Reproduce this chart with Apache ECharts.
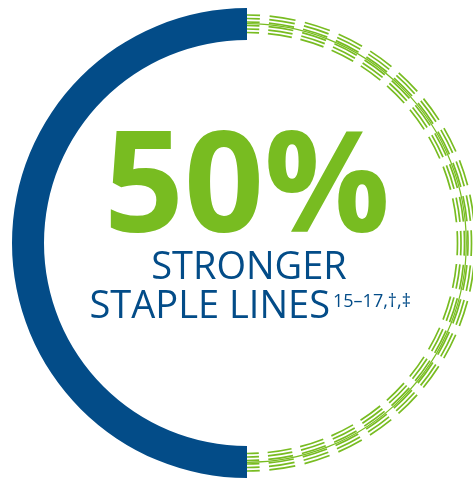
<!DOCTYPE html>
<html>
<head>
<meta charset="utf-8">
<script src="https://cdn.jsdelivr.net/npm/echarts@6/dist/echarts.min.js"></script>
<style>
  html, body { margin: 0; padding: 0; background: #ffffff; }
  #chart { width: 473px; height: 478px; }
</style>
</head>
<body>
<div id="chart"></div>
<script>
// ---- data ----
const categories = ['Stronger staple lines'];
const strongerValues = [50];          // % shown in solid blue
const remainderValues = [[0, 50, 100]]; // [category index, from %, to %] drawn as staple rows
const headline = '50%';
const titleLines = ['STRONGER', 'STAPLE LINES'];
const footnote = '15\u201317,\u2020,\u2021';

// ---- style ----
const BLUE = '#034C88';
const GREEN = '#78BC21';
const CX = 247, CY = 243;
const rowRadii = [210.5, 214, 217.5, 221, 224.5, 228];
const centerLineR = 219.3;
const PERIOD_DEG = 9, DASH_DEG = 6.6;

const chart = echarts.init(document.getElementById('chart'), null, { renderer: 'canvas' });

chart.setOption({
  animation: false,
  polar: { center: [CX, CY], radius: [203, 235] },
  angleAxis: { type: 'value', min: 0, max: 100, startAngle: 90, clockwise: false, show: false },
  radiusAxis: { type: 'category', data: categories, show: false },
  series: [
    {
      type: 'bar',
      coordinateSystem: 'polar',
      data: strongerValues,
      barWidth: '100%',
      itemStyle: { color: BLUE },
      silent: true
    },
    {
      type: 'custom',
      coordinateSystem: 'polar',
      data: remainderValues,
      encode: { radius: 0, angle: [1, 2] },
      silent: true,
      renderItem: function (params, api) {
        const cs = params.coordSys;
        const p1 = api.coord([api.value(0), api.value(1)]);
        const p2 = api.coord([api.value(0), api.value(2)]);
        const a1 = Math.atan2(p1[1] - cs.cy, p1[0] - cs.cx);
        const a2 = Math.atan2(p2[1] - cs.cy, p2[0] - cs.cx);
        let start = a2, end = a1;
        if (end < start) end += Math.PI * 2;
        const children = [];
        children.push({
          type: 'arc',
          shape: { cx: cs.cx, cy: cs.cy, r: centerLineR, startAngle: start, endAngle: end, clockwise: true },
          style: { stroke: GREEN, lineWidth: 1.2, fill: null }
        });
        rowRadii.forEach(function (r) {
          const dash = r * DASH_DEG * Math.PI / 180;
          const gap = r * (PERIOD_DEG - DASH_DEG) * Math.PI / 180;
          children.push({
            type: 'arc',
            shape: { cx: cs.cx, cy: cs.cy, r: r, startAngle: start, endAngle: end, clockwise: true },
            style: { stroke: GREEN, lineWidth: 1.7, fill: null, lineDash: [dash, gap], lineDashOffset: dash / 2 }
          });
        });
        return { type: 'group', children: children };
      }
    }
  ],
  graphic: [
    {
      type: 'text', x: 247, y: 192, silent: true,
      style: { text: headline, font: 'bold 140px "Open Sans"', fill: GREEN, align: 'center', verticalAlign: 'middle' }
    },
    {
      type: 'text', x: 249, y: 268, silent: true,
      style: { text: titleLines[0], font: '38px "Open Sans"', fill: BLUE, align: 'center', verticalAlign: 'middle' }
    },
    {
      type: 'text', x: 330, y: 307, silent: true,
      style: { text: titleLines[1], font: '38px "Open Sans"', fill: BLUE, align: 'right', verticalAlign: 'middle' }
    },
    {
      type: 'text', x: 333, y: 302, silent: true,
      style: { text: footnote, font: '18px "Open Sans"', fill: BLUE, align: 'left', verticalAlign: 'middle' }
    }
  ]
});
</script>
</body>
</html>
